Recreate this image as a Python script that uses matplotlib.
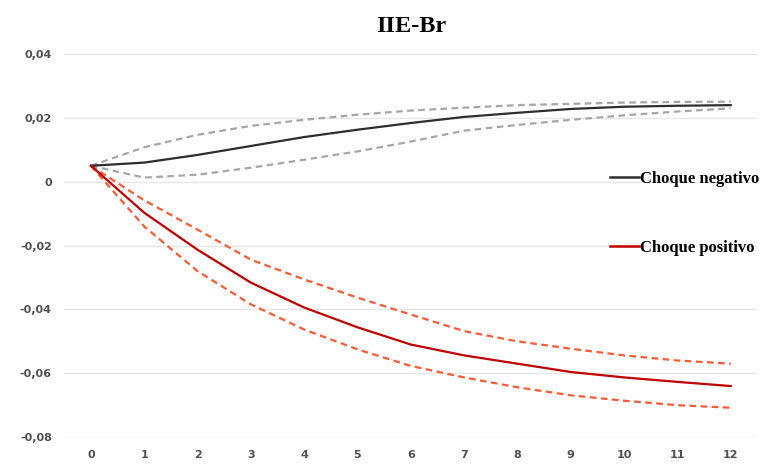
import numpy as np
import matplotlib.pyplot as plt
from matplotlib.lines import Line2D
from matplotlib.ticker import FuncFormatter

# horizons
horizon = np.arange(13)

# choque negativo (central and bands)
neg_mid = [0.005, 0.006, 0.0084, 0.0112, 0.014, 0.0163, 0.0184, 0.0203, 0.0216, 0.0228, 0.0235, 0.0238, 0.024]
neg_up = [0.005, 0.0108, 0.0147, 0.0175, 0.0194, 0.021, 0.0223, 0.0232, 0.024, 0.0244, 0.0248, 0.025, 0.0251]
neg_lo = [0.005, 0.0013, 0.0022, 0.0044, 0.0069, 0.0095, 0.0126, 0.016, 0.0178, 0.0194, 0.0208, 0.022, 0.023]

# choque positivo (central and bands)
pos_mid = [0.005, -0.0097, -0.0213, -0.0316, -0.0394, -0.0456, -0.051, -0.0544, -0.057, -0.0596, -0.0613, -0.0627, -0.064]
pos_up = [0.005, -0.0058, -0.015, -0.0244, -0.0306, -0.0363, -0.0416, -0.0468, -0.050, -0.0523, -0.0544, -0.056, -0.057]
pos_lo = [0.005, -0.014, -0.028, -0.0384, -0.0463, -0.0525, -0.0577, -0.0613, -0.0644, -0.0669, -0.0686, -0.070, -0.0708]

yticks = [-0.08, -0.06, -0.04, -0.02, 0, 0.02, 0.04]

BLACK = '#2e2e2e'
GRAY = '#a6a6a6'
RED = '#c00000'
ORANGE = '#ff5a33'

fig = plt.figure(figsize=(7.65, 4.66), dpi=100)
ax = fig.add_axes([0.084, 0.062, 0.906, 0.822])

dash = (0, (3, 2))
ax.plot(horizon, neg_up, color=GRAY, lw=1.6, ls=dash)
ax.plot(horizon, neg_lo, color=GRAY, lw=1.6, ls=dash)
ax.plot(horizon, pos_up, color=ORANGE, lw=1.6, ls=dash)
ax.plot(horizon, pos_lo, color=ORANGE, lw=1.6, ls=dash)
ax.plot(horizon, neg_mid, color=BLACK, lw=1.6)
ax.plot(horizon, pos_mid, color=RED, lw=1.6)

ax.set_xlim(-0.5, 12.5)
ax.set_ylim(-0.08, 0.04)
ax.set_xticks(horizon)
ax.set_yticks(yticks)
ax.yaxis.set_major_formatter(FuncFormatter(lambda v, p: ('%.2f' % v).replace('.', ',') if v != 0 else '0'))
ax.grid(axis='y', color='#e6e6e6', lw=1)
ax.set_axisbelow(True)
for s in ax.spines.values():
    s.set_visible(False)
ax.tick_params(length=0, labelsize=8, labelcolor='#505050')
ax.tick_params(axis='y', pad=9)
ax.tick_params(axis='x', pad=9)
for lab in ax.get_xticklabels() + ax.get_yticklabels():
    lab.set_fontweight('bold')

ax.set_title('IIE-Br', fontsize=17.5, fontweight='bold', family='Liberation Serif', pad=16)

leg_font = {'family': 'Liberation Serif', 'weight': 'bold', 'size': 12}
leg1 = ax.legend([Line2D([], [], color=BLACK, lw=1.8)], ['Choque negativo'],
                 loc='center left', bbox_to_anchor=(0.788, 0.675), frameon=False,
                 prop=leg_font, handlelength=1.7, handletextpad=0.1,
                 borderpad=0, borderaxespad=0)
ax.add_artist(leg1)
ax.legend([Line2D([], [], color=RED, lw=1.8)], ['Choque positivo'],
          loc='center left', bbox_to_anchor=(0.788, 0.493), frameon=False,
          prop=leg_font, handlelength=1.7, handletextpad=0.1,
          borderpad=0, borderaxespad=0)

fig.savefig('out.png', dpi=100)
